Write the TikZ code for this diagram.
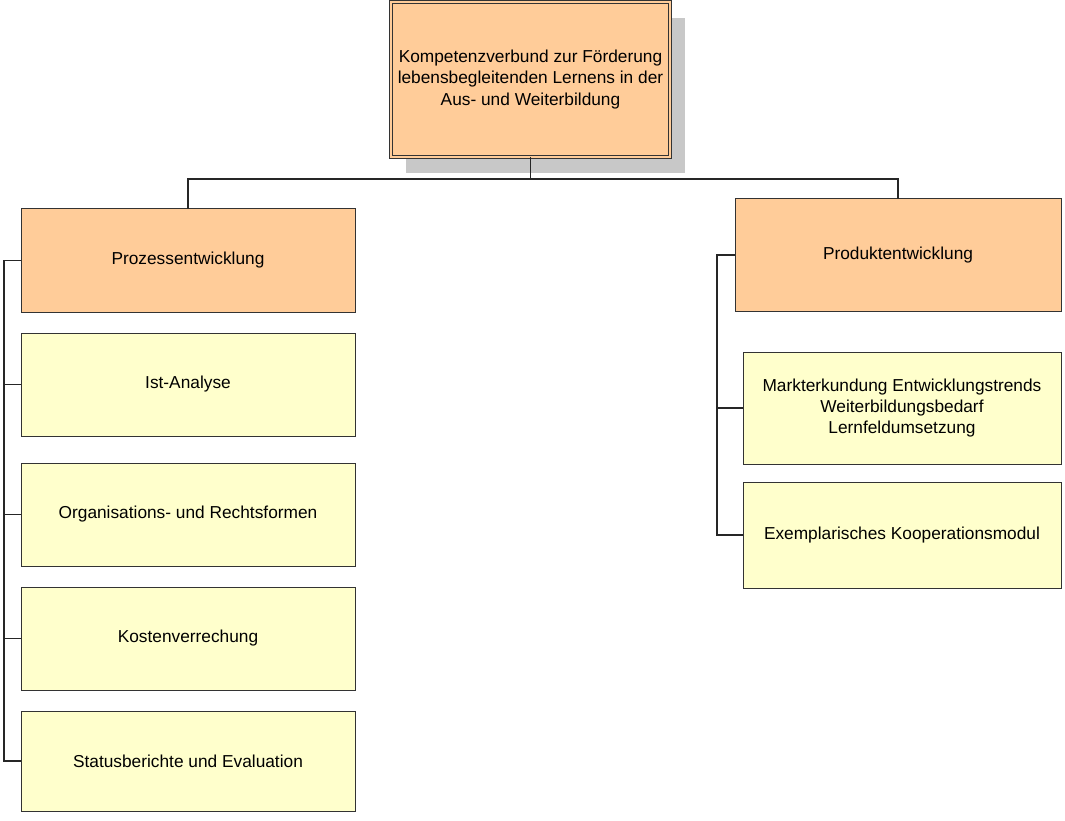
\documentclass[tikz,border=0pt]{standalone}
\usepackage{fontspec}
\setmainfont{Liberation Sans}
\usetikzlibrary{positioning,shadows}

\definecolor{peach}{HTML}{FFCC99}
\definecolor{paleyellow}{HTML}{FFFFCC}
\definecolor{shadowgray}{HTML}{C8C8C8}

\tikzset{
  box/.style   = {rectangle, draw=black!80, line width=1pt, align=center,
                  inner sep=2pt, outer sep=0pt,
                  font=\fontsize{17.3}{21.3}\selectfont},
  headbox/.style = {box, fill=peach},
  itembox/.style = {box, fill=paleyellow},
  conn/.style  = {draw=black!85, line width=1.3pt}
}

\begin{document}
\begin{tikzpicture}[x=1pt, y=-1pt]
\useasboundingbox (0,0) rectangle (1065,821);

% root
\node[headbox, minimum width=279pt, minimum height=155pt,
      double=peach, double distance=2pt, line width=0.8pt,
      drop shadow={shadow xshift=15pt, shadow yshift=-16pt,
                   fill=shadowgray, opacity=1}]
      (root) at (530.5,79.5)
      {Kompetenzverbund zur Förderung\\lebensbegleitenden Lernens in der\\Aus- und Weiterbildung};
\coordinate (bar) at (530.5,179);

% left branch
\node[headbox, minimum width=334pt, minimum height=103pt]
      (proz) at (188,260.5) {Prozessentwicklung};
\node[itembox, minimum width=334pt, minimum height=103pt,
      below=21pt of proz]  (ist)  {Ist-Analyse};
\node[itembox, minimum width=334pt, minimum height=103pt,
      below=27pt of ist]   (org)  {Organisations- und Rechtsformen};
\node[itembox, minimum width=334pt, minimum height=103pt,
      below=21pt of org]   (kost) {Kostenverrechung};
\node[itembox, minimum width=334pt, minimum height=100pt,
      below=21pt of kost]  (stat) {Statusberichte und Evaluation};
\coordinate (ltrunk) at (4,0);

% right branch
\node[headbox, minimum width=326pt, minimum height=112pt]
      (prod) at (898,255) {Produktentwicklung};
\node[itembox, minimum width=318pt, minimum height=112pt]
      (markt) at (902,408)
      {Markterkundung Entwicklungstrends\\Weiterbildungsbedarf\\Lernfeldumsetzung};
\node[itembox, minimum width=318pt, minimum height=106pt,
      below=18pt of markt] (exem) {Exemplarisches Kooperationsmodul};
\coordinate (rtrunk) at (717,0);

% connectors
\draw[conn] (root.south) -- (bar);
\draw[conn] (proz.north) |- (bar) -| (prod.north);
\draw[conn] (proz.west) -- (proz.west -| ltrunk) |- (stat.west);
\foreach \n in {ist,org,kost}
  \draw[conn] (\n.west) -- (\n.west -| ltrunk);
\draw[conn] (prod.west) -- (prod.west -| rtrunk) |- (exem.west);
\draw[conn] (markt.west) -- (markt.west -| rtrunk);
\end{tikzpicture}
\end{document}
